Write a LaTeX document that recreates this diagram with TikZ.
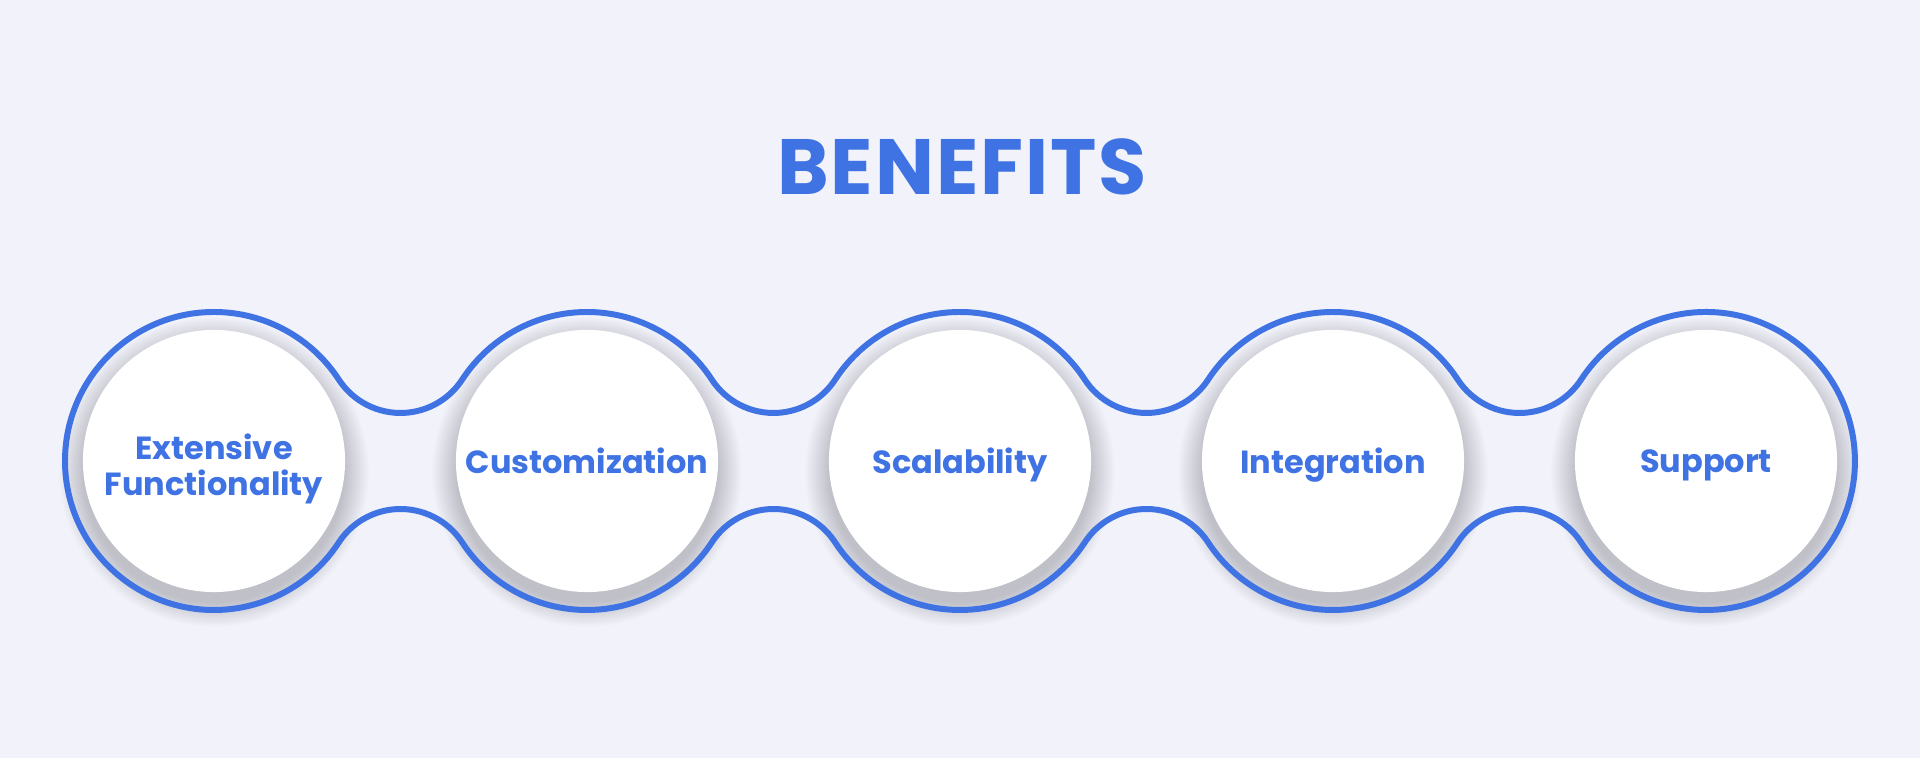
\documentclass[tikz,border=0pt]{standalone}
\usepackage{fontspec}
\setmainfont{Poppins}
\definecolor{bnblue}{HTML}{3F72E2}
\definecolor{bnback}{HTML}{F1F2FA}

\begin{document}
\begin{tikzpicture}[x=0.01cm,y=0.01cm,
    bubble/.style={circle,fill=white,minimum size=2.62cm,inner sep=0pt,align=center,text depth=0pt,
        text=bnblue,font=\bfseries\fontsize{9.1}{10.3}\selectfont}]
    \fill[bnback] (0,0) rectangle (1920,758);
    \node[text=bnblue,font=\bfseries\fontsize{22.3}{25}\selectfont\addfontfeatures{LetterSpace=2.5}] (title) at (962,591) {BENEFITS};

    \foreach \cx in {214,587,960,1333,1706} {
        \foreach \k in {0,...,24} {
            \fill[black,opacity=0.008] (\cx,286) circle (131+\k);
        }
    }

    \draw[bnblue,line width=1.7pt] (65,297) arc[start angle=180,end angle=33.13,radius=149]
        \foreach \i in {1,2,3} {
            arc[start angle=213.13,end angle=326.87,radius=73.7]
            arc[start angle=146.87,end angle=33.13,radius=149]
        }
        arc[start angle=213.13,end angle=326.87,radius=73.7]
        arc[start angle=146.87,end angle=-146.87,radius=149]
        \foreach \i in {1,2,3} {
            arc[start angle=33.13,end angle=146.87,radius=73.7]
            arc[start angle=-33.13,end angle=-146.87,radius=149]
        }
        arc[start angle=33.13,end angle=146.87,radius=73.7]
        arc[start angle=-33.13,end angle=-180,radius=149] -- cycle;

    \node[bubble,text height=19.5pt] (ext) at (214,297) {Extensive\\Functionality};
    \foreach \cx/\name/\label in {587/cust/Customization,960/scal/Scalability,
            1333/integ/Integration,1706/supp/Support} {
        \node[bubble] (\name) at (\cx,297) {\label};
    }
\end{tikzpicture}
\end{document}
